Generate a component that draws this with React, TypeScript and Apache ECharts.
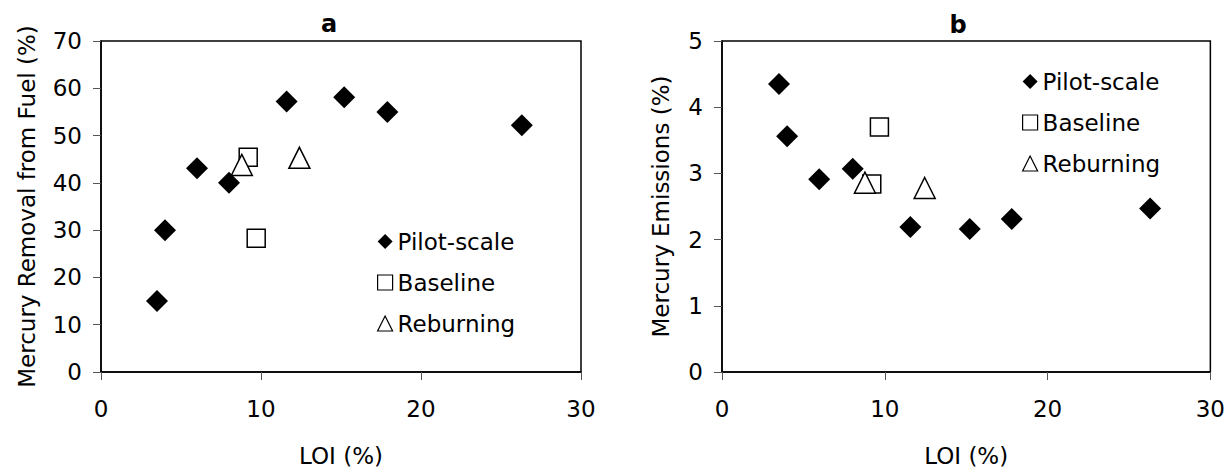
import React, { useEffect, useRef } from "react";
import * as echarts from "echarts";

// ---- Data ----
const seriesNames = ["Pilot-scale", "Baseline", "Reburning"];

// Panel a: LOI (%) vs Mercury Removal from Fuel (%)
const aPilotLOI = [3.5, 4.0, 6.0, 8.0, 11.6, 15.2, 17.9, 26.3];
const aPilotRemoval = [15.0, 30.0, 43.1, 40.0, 57.2, 58.1, 55.0, 52.2];
const aBaselineLOI = [9.2, 9.7];
const aBaselineRemoval = [45.4, 28.3];
const aReburnLOI = [8.8, 12.4];
const aReburnRemoval = [43.8, 45.3];

// Panel b: LOI (%) vs Mercury Emissions (%)
const bPilotLOI = [3.5, 4.0, 5.97, 8.03, 11.57, 15.22, 17.8, 26.3];
const bPilotEmission = [4.35, 3.56, 2.91, 3.07, 2.19, 2.16, 2.31, 2.47];
const bBaselineLOI = [9.67, 9.2];
const bBaselineEmission = [3.7, 2.84];
const bReburnLOI = [8.78, 12.45];
const bReburnEmission = [2.86, 2.78];

const xTicks = { min: 0, max: 30, interval: 10 };
const aYTicks = { min: 0, max: 70, interval: 10 };
const bYTicks = { min: 0, max: 5, interval: 1 };

const xName = "LOI (%)";
const aYName = "Mercury Removal from Fuel (%)";
const bYName = "Mercury Emissions (%)";
const panelTitles = ["a", "b"];

const FONT = "DejaVu Sans";
const FS = 23;

const zip = (xs: number[], ys: number[]) => xs.map((x, i) => [x, ys[i]]);

export default function App() {
  const ref = useRef<HTMLDivElement>(null);

  useEffect(() => {
    if (!ref.current) return;
    const chart = echarts.init(ref.current, undefined, { renderer: "svg" });

    const axisLabel = { fontFamily: FONT, fontSize: FS, color: "#000" };
    const mkX = (gridIndex: number, margin: number) => ({
      type: "value",
      gridIndex,
      min: xTicks.min,
      max: xTicks.max,
      interval: xTicks.interval,
      name: xName,
      nameLocation: "middle",
      nameGap: 72,
      nameTextStyle: { fontFamily: FONT, fontSize: FS, color: "#000" },
      axisLine: { show: true, onZero: false, lineStyle: { color: "#000", width: 1.5 } },
      axisTick: { show: true, inside: false, length: 8, lineStyle: { color: "#555", width: 1 } },
      axisLabel: { ...axisLabel, margin },
      splitLine: { show: false },
    });
    const mkY = (gridIndex: number, ticks: any, name: string, gap: number) => ({
      type: "value",
      gridIndex,
      min: ticks.min,
      max: ticks.max,
      interval: ticks.interval,
      name,
      nameLocation: "middle",
      nameGap: gap,
      nameTextStyle: { fontFamily: FONT, fontSize: FS, color: "#000" },
      axisLine: { show: true, onZero: false, lineStyle: { color: "#000", width: 1.5 } },
      axisTick: { show: true, inside: false, length: 8, lineStyle: { color: "#555", width: 1 } },
      axisLabel: { ...axisLabel, margin: 19 },
      splitLine: { show: false },
    });

    const pilotStyle = {
      symbol: "diamond",
      symbolSize: 22,
      itemStyle: { color: "#000", opacity: 1 },
    };
    const baseStyle = {
      symbol: "rect",
      symbolSize: 18,
      itemStyle: { color: "#fff", borderColor: "#000", borderWidth: 1.5, opacity: 1 },
    };
    const reburnStyle = {
      symbol: "triangle",
      symbolSize: 21,
      itemStyle: { color: "#fff", borderColor: "#000", borderWidth: 1.5, opacity: 1 },
    };

    const legendCommon = {
      orient: "vertical",
      data: seriesNames,
      padding: 0,
      itemWidth: 15,
      itemHeight: 15,
      itemGap: 18,
      selectedMode: false,
      textStyle: { fontFamily: FONT, fontSize: FS, color: "#000" },
      itemStyle: { borderWidth: 1.2, opacity: 1 },
    };

    chart.setOption({
      animation: false,
      textStyle: { fontFamily: FONT, color: "#000" },
      grid: [
        { left: 101, top: 41, width: 480, height: 335, show: true, borderColor: "#000", borderWidth: 1.5 },
        { left: 722, top: 41, width: 491, height: 333, show: true, borderColor: "#000", borderWidth: 1.5 },
      ],
      xAxis: [mkX(0, 25), mkX(1, 25)],
      yAxis: [mkY(0, aYTicks, aYName, 63), mkY(1, bYTicks, bYName, 50)],
      legend: [
        { ...legendCommon, left: 377, top: 230 },
        { ...legendCommon, left: 1022, top: 70 },
      ],
      graphic: [
        {
          type: "text",
          x: 329,
          y: 24,
          style: {
            text: panelTitles[0],
            fontFamily: FONT,
            fontSize: 24,
            fontWeight: "bold",
            fill: "#000",
            align: "center",
            verticalAlign: "middle",
          },
        },
        {
          type: "text",
          x: 958,
          y: 25,
          style: {
            text: panelTitles[1],
            fontFamily: FONT,
            fontSize: 24,
            fontWeight: "bold",
            fill: "#000",
            align: "center",
            verticalAlign: "middle",
          },
        },
      ],
      series: [
        { type: "scatter", name: seriesNames[0], xAxisIndex: 0, yAxisIndex: 0, data: zip(aPilotLOI, aPilotRemoval), ...pilotStyle },
        { type: "scatter", name: seriesNames[1], xAxisIndex: 0, yAxisIndex: 0, data: zip(aBaselineLOI, aBaselineRemoval), ...baseStyle },
        { type: "scatter", name: seriesNames[2], xAxisIndex: 0, yAxisIndex: 0, data: zip(aReburnLOI, aReburnRemoval), ...reburnStyle },
        { type: "scatter", name: seriesNames[0], xAxisIndex: 1, yAxisIndex: 1, data: zip(bPilotLOI, bPilotEmission), ...pilotStyle },
        { type: "scatter", name: seriesNames[1], xAxisIndex: 1, yAxisIndex: 1, data: zip(bBaselineLOI, bBaselineEmission), ...baseStyle },
        { type: "scatter", name: seriesNames[2], xAxisIndex: 1, yAxisIndex: 1, data: zip(bReburnLOI, bReburnEmission), ...reburnStyle },
      ],
    });

    return () => chart.dispose();
  }, []);

  return (
    <div
      ref={ref}
      style={{ position: "absolute", left: 0, top: 0, width: 1228, height: 472, background: "#fff" }}
    />
  );
}
